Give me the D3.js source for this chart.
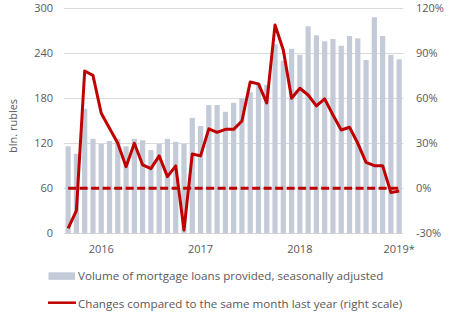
<!DOCTYPE html>
<html>
<head>
<meta charset="utf-8">
<script src="https://cdn.jsdelivr.net/npm/d3@7"></script>
<style>
  html, body { margin: 0; padding: 0; background: #fff; }
  svg { display: block; }
  text { font-family: "Open Sans", "Liberation Sans", sans-serif; fill: #595959; }
</style>
</head>
<body>
<svg id="chart" width="450" height="321"></svg>
<script>
// Months from Sep 2015 to Jan 2019
const months = [
  "2015-09","2015-10","2015-11","2015-12",
  "2016-01","2016-02","2016-03","2016-04","2016-05","2016-06","2016-07","2016-08","2016-09","2016-10","2016-11","2016-12",
  "2017-01","2017-02","2017-03","2017-04","2017-05","2017-06","2017-07","2017-08","2017-09","2017-10","2017-11","2017-12",
  "2018-01","2018-02","2018-03","2018-04","2018-05","2018-06","2018-07","2018-08","2018-09","2018-10","2018-11","2018-12",
  "2019-01"
];
// Volume of mortgage loans provided, seasonally adjusted (bln. rubles)
const volume = [
  116, 106, 166, 126, 119, 123, 126, 116, 126, 124,
  111, 119, 126, 122, 119, 154, 143, 171, 171, 162,
  174, 180, 188, 200, 198, 252, 230, 246, 238, 276,
  264, 256, 259, 250, 263, 260, 231, 288, 263, 238,
  232
];
// Changes compared to the same month last year, %
const change = [
  -26.7, -14.9, 78.2, 75.3, 50.0, 40.0, 30.0, 14.4, 30.0, 15.6,
  13.1, 21.6, 7.8, 14.9, -27.8, 22.9, 21.6, 39.6, 37.3, 39.3,
  39.3, 44.9, 70.9, 69.6, 56.9, 108.9, 92.2, 60.0, 66.7, 62.2,
  54.9, 59.6, 48.9, 38.9, 40.7, 30.0, 17.3, 15.1, 15.1, -2.9,
  -1.8
];
const zeroLine = months.map(() => 0);
const yearTicks = [
  { month: "2016-01", label: "2016" },
  { month: "2017-01", label: "2017" },
  { month: "2018-01", label: "2018" },
  { month: "2019-01", label: "2019*" }
];
const leftTicks = [0, 60, 120, 180, 240, 300];
const rightTicks = [-30, 0, 30, 60, 90, 120];
const legendLabels = [
  "Volume of mortgage loans provided, seasonally adjusted",
  "Changes compared to the same month last year (right scale)"
];

const svg = d3.select("#chart");
const plot = { left: 64, right: 403.3, top: 8.3, bottom: 233.3 };

const x = d3.scaleBand().domain(months).range([plot.left, plot.right])
  .paddingInner(0.37).paddingOuter(0.185);
const yL = d3.scaleLinear().domain([0, 300]).range([plot.bottom, plot.top]);
const yR = d3.scaleLinear().domain([-30, 120]).range([plot.bottom, plot.top]);

const barColor = "#C3CAD8";
const red = "#C00000";

// gridlines
svg.append("g").selectAll("line").data(leftTicks).join("line")
  .attr("x1", plot.left).attr("x2", plot.right)
  .attr("y1", d => Math.round(yL(d)) + 0.5).attr("y2", d => Math.round(yL(d)) + 0.5)
  .attr("stroke", "#D9D9D9").attr("stroke-width", 1);

// bars
svg.append("g").selectAll("rect").data(volume).join("rect")
  .attr("x", (d, i) => x(months[i]))
  .attr("width", x.bandwidth())
  .attr("y", d => yL(d))
  .attr("height", d => yL(0) - yL(d))
  .attr("fill", barColor);

const cx = m => x(m) + x.bandwidth() / 2;

// zero dashed line (right scale 0%)
svg.append("path")
  .datum(zeroLine)
  .attr("d", d3.line().x((d, i) => cx(months[i])).y(d => yR(d)))
  .attr("fill", "none").attr("stroke", red).attr("stroke-width", 3)
  .attr("stroke-dasharray", "8,3.5");

// change line
svg.append("path")
  .datum(change)
  .attr("d", d3.line().x((d, i) => cx(months[i])).y(d => yR(d)))
  .attr("fill", "none").attr("stroke", red).attr("stroke-width", 3)
  .attr("stroke-linejoin", "round");

const fontSize = "11px";

// left axis
const leftAxis = d3.axisLeft(yL).tickValues(leftTicks).tickSize(0).tickPadding(0);
const gl = svg.append("g").attr("transform", `translate(53,0)`).call(leftAxis);
gl.select(".domain").remove();
gl.selectAll("text").style("font-size", fontSize).attr("fill", "#595959")
  .style("font-family", '"Open Sans", sans-serif');

// right axis
const rightAxis = d3.axisRight(yR).tickValues(rightTicks).tickSize(0).tickPadding(0)
  .tickFormat(d => d + "%");
const gr = svg.append("g").attr("transform", `translate(416,0)`).call(rightAxis);
gr.select(".domain").remove();
gr.selectAll("text").style("font-size", fontSize).attr("fill", "#595959")
  .style("font-family", '"Open Sans", sans-serif');

// x axis year labels
const xAxis = d3.axisBottom(x).tickValues(yearTicks.map(d => d.month))
  .tickFormat(m => yearTicks.find(t => t.month === m).label)
  .tickSize(0).tickPadding(0);
const gx = svg.append("g").attr("transform", `translate(0,245)`).call(xAxis);
gx.select(".domain").remove();
gx.selectAll("text").style("font-size", fontSize).attr("fill", "#595959")
  .style("font-family", '"Open Sans", sans-serif');

// y axis title
svg.append("text")
  .attr("transform", "translate(16.5,126) rotate(-90)")
  .attr("text-anchor", "middle")
  .style("font-size", fontSize)
  .text("bln. rubles");

// legend
const lg = svg.append("g");
lg.append("rect").attr("x", 48.5).attr("y", 272.3).attr("width", 26.5).attr("height", 7.5).attr("fill", barColor);
lg.append("text").attr("x", 78).attr("y", 280).style("font-size", "11.6px").text(legendLabels[0]);
lg.append("line").attr("x1", 48).attr("x2", 76).attr("y1", 302.7).attr("y2", 302.7)
  .attr("stroke", red).attr("stroke-width", 2.5);
lg.append("text").attr("x", 78).attr("y", 307.5).style("font-size", "11.6px").text(legendLabels[1]);
</script>
</body>
</html>
